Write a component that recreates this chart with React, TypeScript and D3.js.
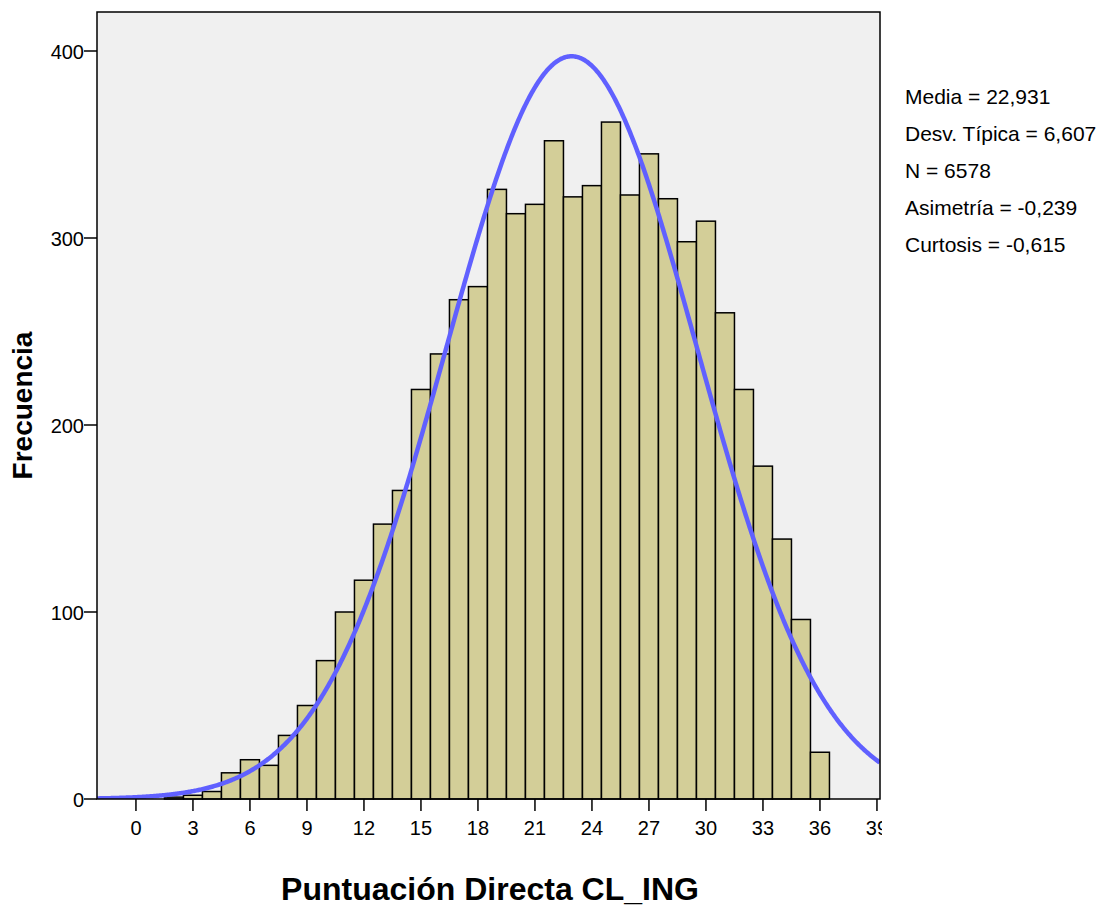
import * as d3 from "d3";

const binCenters = [2, 3, 4, 5, 6, 7, 8, 9, 10, 11, 12, 13, 14, 15, 16, 17, 18, 19, 20, 21, 22, 23, 24, 25, 26, 27, 28, 29, 30, 31, 32, 33, 34, 35, 36];
const counts = [1, 2, 4, 14, 21, 18, 34, 50, 74, 100, 117, 147, 165, 219, 238, 267, 274, 326, 313, 318, 352, 322, 328, 362, 323, 345, 321, 298, 309, 260, 219, 178, 139, 96, 25];
const xTicks = [0, 3, 6, 9, 12, 15, 18, 21, 24, 27, 30, 33, 36, 39];
const yTicks = [0, 100, 200, 300, 400];
const stats = ["Media = 22,931", "Desv. Típica = 6,607", "N = 6578", "Asimetría = -0,239", "Curtosis = -0,615"];
const mean = 22.931;
const sd = 6.607;
const n = 6578;

export default function App() {
  const left = 97, right = 880, top = 12, bottom = 799;
  const x = d3.scaleLinear().domain([-2.05, 39.16]).range([left, right]);
  const y = d3.scaleLinear().domain([0, 400]).range([bottom, bottom - 748]);
  const curveX = d3.range(-2.05, 39.17, 0.05);
  const line = d3.line<number>()
    .x((v) => x(v))
    .y((v) => y((n / (sd * Math.sqrt(2 * Math.PI))) * Math.exp(-((v - mean) ** 2) / (2 * sd * sd))));
  const font = "Liberation Sans, Arial, sans-serif";
  return (
    <svg width={1108} height={908} style={{ position: "absolute", left: 0, top: 0 }} fontFamily={font}>
      <rect x={0} y={0} width={1108} height={908} fill="#fff" />
      <clipPath id="plot"><rect x={left} y={top} width={right - left} height={bottom - top} /></clipPath>
      <rect x={left} y={top} width={right - left} height={bottom - top} fill="#f0f0f0" />
      {binCenters.map((c, i) => (
        <rect key={c} x={x(c - 0.5)} y={y(counts[i])} width={x(c + 0.5) - x(c - 0.5)} height={bottom - y(counts[i])}
          fill="#d3ce98" stroke="#000" strokeWidth={1.5} />
      ))}
      <path d={line(curveX) ?? ""} fill="none" stroke="#6060ff" strokeWidth={4.5} clipPath="url(#plot)" />
      <rect x={left} y={top} width={right - left} height={bottom - top} fill="none" stroke="#000" strokeWidth={1.5} />
      {yTicks.map((t) => (
        <g key={t}>
          <line x1={left - 13} x2={left} y1={y(t)} y2={y(t)} stroke="#000" strokeWidth={1.5} />
          <text x={left - 13} y={y(t) + 8} textAnchor="end" fontSize={20}>{t}</text>
        </g>
      ))}
      <svg x={0} y={0} width={right + 2} height={908} overflow="hidden">
        {xTicks.map((t) => (
          <g key={t}>
            <line x1={x(t)} x2={x(t)} y1={bottom} y2={bottom + 12} stroke="#000" strokeWidth={1.5} />
            <text x={x(t)} y={bottom + 36} textAnchor="middle" fontSize={20}>{t}</text>
          </g>
        ))}
      </svg>
      <text transform={`translate(32, ${(top + bottom) / 2}) rotate(-90)`} textAnchor="middle" fontSize={28} fontWeight="bold">Frecuencia</text>
      <text x={490} y={900} textAnchor="middle" fontSize={32} fontWeight="bold">Puntuación Directa CL_ING</text>
      {stats.map((s, i) => (
        <text key={s} x={905} y={104 + i * 37} fontSize={21}>{s}</text>
      ))}
    </svg>
  );
}
